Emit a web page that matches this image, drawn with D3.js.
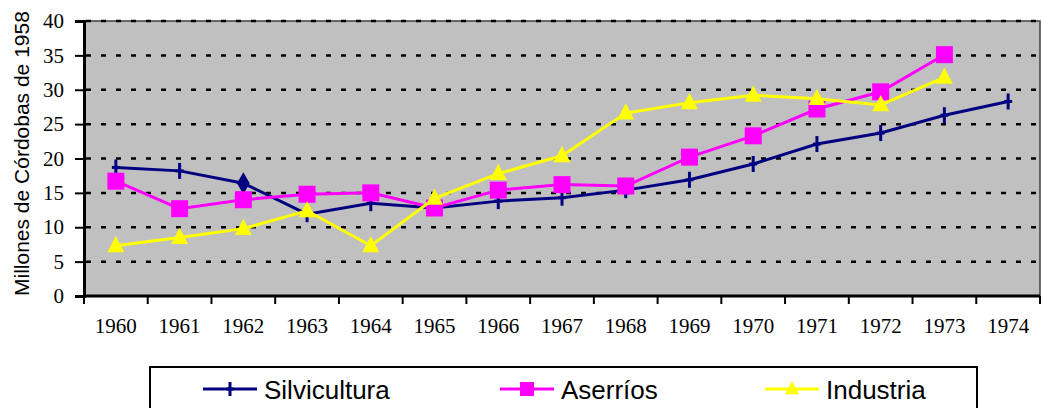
<!DOCTYPE html>
<html>
<head>
<meta charset="utf-8">
<script src="https://cdn.jsdelivr.net/npm/d3@7"></script>
<style>
  body { margin: 0; background: #fff; }
  svg { display: block; }
</style>
</head>
<body>
<script>
const width = 1042;
const height = 408;

// data
const years = ["1960", "1961", "1962", "1963", "1964", "1965", "1966", "1967",
  "1968", "1969", "1970", "1971", "1972", "1973", "1974"];
const silvicultura = [18.7, 18.2, 16.4, 11.9, 13.5, 12.8, 13.8, 14.3, 15.4, 16.9, 19.2, 22.1, 23.7, 26.3, 28.3];
const aserrios = [16.7, 12.7, 14.0, 14.8, 15.0, 12.8, 15.4, 16.2, 16.0, 20.2, 23.3, 27.2, 29.7, 35.1, null];
const industria = [7.3, 8.5, 9.8, 12.4, 7.3, 14.2, 17.8, 20.4, 26.6, 28.1, 29.2, 28.7, 27.8, 31.8, null];
const yTicks = [0, 5, 10, 15, 20, 25, 30, 35, 40];

const series = [
  { name: "Silvicultura", values: silvicultura, color: "#000080", marker: "plus" },
  { name: "Aserríos", values: aserrios, color: "#FF00FF", marker: "square" },
  { name: "Industria", values: industria, color: "#FFFF00", marker: "triangle" }
];

const svg = d3.select("body").append("svg")
  .attr("width", width)
  .attr("height", height);

const plotL = 84, plotR = 1040, plotT = 21, plotB = 296;

const x = d3.scaleBand().domain(years).range([plotL, plotR]);
const y = d3.scaleLinear().domain([0, 40]).range([plotB, plotT]);

// plot background
svg.append("rect")
  .attr("x", plotL).attr("y", plotT)
  .attr("width", plotR - plotL).attr("height", plotB - plotT)
  .attr("fill", "#C0C0C0")
  .attr("stroke", "#404040")
  .attr("stroke-width", 1.5);

// dashed grid
svg.append("g")
  .selectAll("line")
  .data(yTicks.filter(d => d > 0))
  .join("line")
  .attr("x1", plotL + 2).attr("x2", plotR)
  .attr("y1", d => y(d)).attr("y2", d => y(d))
  .attr("stroke", "#000")
  .attr("stroke-width", 2.5)
  .attr("stroke-dasharray", "5,10");

// y axis
const yAxis = svg.append("g")
  .attr("transform", `translate(${plotL},0)`)
  .call(d3.axisLeft(y).tickValues(yTicks).tickSize(9).tickPadding(11));
yAxis.select(".domain").attr("stroke", "#000").attr("stroke-width", 3);
yAxis.selectAll(".tick line").attr("stroke-width", 2);
yAxis.selectAll("text")
  .attr("font-family", "'Liberation Serif', 'Times New Roman', serif")
  .attr("font-size", 21)
  .attr("fill", "#000");

// x axis: ticks on band boundaries, labels on centers
const xAxis = svg.append("g").attr("transform", `translate(0,${plotB})`);
xAxis.append("line")
  .attr("x1", plotL - 1).attr("x2", plotR)
  .attr("stroke", "#000").attr("stroke-width", 3);
xAxis.selectAll(".tk")
  .data(years.concat(["end"]))
  .join("line")
  .attr("class", "tk")
  .attr("x1", (d, i) => plotL + i * x.step())
  .attr("x2", (d, i) => plotL + i * x.step())
  .attr("y1", 0).attr("y2", 8)
  .attr("stroke", "#000").attr("stroke-width", 2);
xAxis.selectAll("text")
  .data(years)
  .join("text")
  .attr("x", d => x(d) + x.bandwidth() / 2)
  .attr("y", 37)
  .attr("text-anchor", "middle")
  .attr("font-family", "'Liberation Serif', 'Times New Roman', serif")
  .attr("font-size", 21)
  .text(d => d);

// y axis title
svg.append("text")
  .attr("transform", "translate(29,296) rotate(-90)")
  .attr("font-family", "'Liberation Sans', Arial, sans-serif")
  .attr("font-size", 21)
  .text("Millones de Córdobas de 1958");

const line = d3.line()
  .defined(d => d.v != null)
  .x(d => x(d.year) + x.bandwidth() / 2)
  .y(d => y(d.v));

const drawMarker = (g, type, color, size) => {
  if (type === "plus") {
    g.append("line").attr("y1", -size).attr("y2", size)
      .attr("stroke", color).attr("stroke-width", 3);
    g.append("line").attr("x1", -size / 2).attr("x2", size / 2)
      .attr("stroke", color).attr("stroke-width", 3);
  } else if (type === "diamond") {
    g.append("path").attr("d", d3.symbol(d3.symbolDiamond, size * size * 2.2)())
      .attr("fill", color);
  } else if (type === "square") {
    g.append("rect").attr("x", -size).attr("y", -size)
      .attr("width", size * 2).attr("height", size * 2).attr("fill", color);
  } else {
    g.append("path")
      .attr("d", `M0,${-size * 1.15}L${size},${size * 0.75}L${-size},${size * 0.75}Z`)
      .attr("fill", color);
  }
};

series.forEach(s => {
  const pts = years.map((yr, i) => ({ year: yr, v: s.values[i] }));
  svg.append("path")
    .datum(pts)
    .attr("d", line)
    .attr("fill", "none")
    .attr("stroke", s.color)
    .attr("stroke-width", 3);
  pts.filter(d => d.v != null).forEach(d => {
    const g = svg.append("g")
      .attr("transform", `translate(${x(d.year) + x.bandwidth() / 2},${y(d.v)})`);
    // 1962 silvicultura point is drawn as a diamond in the original
    const type = s.marker === "plus" && d.year === "1962" ? "diamond" : s.marker;
    drawMarker(g, type, s.color, s.marker === "plus" ? 8 : 8.5);
  });
});

// legend
const legend = svg.append("g");
legend.append("rect")
  .attr("x", 150).attr("y", 367)
  .attr("width", 827).attr("height", 60)
  .attr("fill", "#fff")
  .attr("stroke", "#000")
  .attr("stroke-width", 2);

const legendX = [203, 500, 765];
series.forEach((s, i) => {
  const g = legend.append("g").attr("transform", `translate(${legendX[i]},389)`);
  g.append("line").attr("x1", 0).attr("x2", 54)
    .attr("stroke", s.color).attr("stroke-width", 3);
  const m = g.append("g").attr("transform", "translate(27,0)");
  drawMarker(m, s.marker, s.color, 7);
  g.append("text")
    .attr("x", 61).attr("y", 9.5)
    .attr("font-family", "'Liberation Sans', Arial, sans-serif")
    .attr("font-size", 26)
    .text(s.name);
});
</script>
</body>
</html>
